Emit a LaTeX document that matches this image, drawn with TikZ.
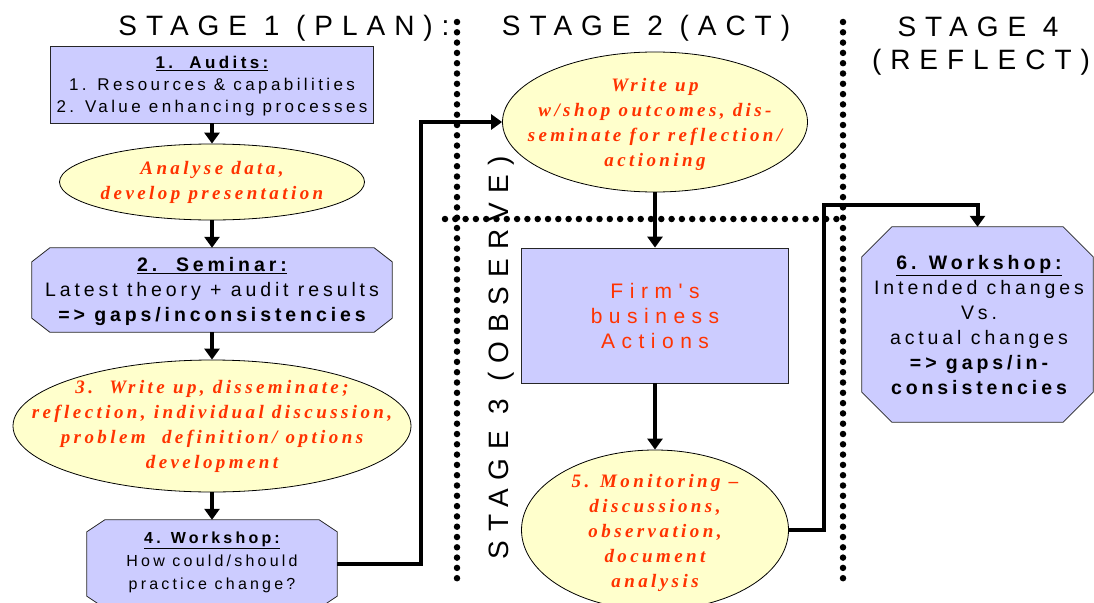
\documentclass[tikz,border=0pt]{standalone}
\usepackage{fontspec}
\setmainfont{Liberation Sans}
\newfontfamily\titlefont[LetterSpace=32]{Liberation Sans}
\newfontfamily\bodyfont[LetterSpace=20]{Liberation Sans}
\newfontfamily\firmfont[LetterSpace=31]{Liberation Sans}
\newfontfamily\notefont[LetterSpace=18]{Liberation Serif}
\usetikzlibrary{shapes.geometric,arrows.meta}

\definecolor{boxfill}{RGB}{204,204,255}
\definecolor{notefill}{RGB}{255,255,204}
\definecolor{notered}{RGB}{255,51,0}

\tikzset{
  stagelabel/.style={font=\titlefont\fontsize{28}{33}\selectfont, inner sep=0},
  card/.style={draw=black!85, line width=0.8pt, fill=boxfill},
  slot/.style={rectangle, inner sep=0},
  note/.style={ellipse, draw=black, line width=0.8pt, fill=notefill, inner sep=0},
  notetext/.style={font=\notefont\bfseries\itshape\fontsize{19}{25}\selectfont,
                   text=notered, align=center, inner sep=0},
  cardtext/.style={font=\bodyfont\fontsize{19.5}{25}\selectfont, align=center, inner sep=0},
  flow/.style={line width=4pt, -{Triangle[width=15pt,length=11pt]}},
  divider/.style={line width=6.5pt, line cap=round, dash pattern=on 0pt off 10.3pt},
}

% octagonal outline around a rectangular slot node: #1 node, #2 x cut, #3 y cut
\newcommand\cutframe[3]{%
  \draw[card] ([xshift=#2]#1.north west) -- ([xshift=-#2]#1.north east)
    -- ([yshift=-#3]#1.north east) -- ([yshift=#3]#1.south east)
    -- ([xshift=-#2]#1.south east) -- ([xshift=#2]#1.south west)
    -- ([yshift=#3]#1.south west) -- ([yshift=-#3]#1.north west) -- cycle;}

\begin{document}
\begin{tikzpicture}[x=1pt, y=-1pt]
  \useasboundingbox (0,0) rectangle (1094,602);

  % stage dividers
  \draw[divider] (457,22) -- (457,580);
  \draw[divider] (843,22) -- (843,580);
  \draw[divider] (445,219) -- (843,219);

  % stage headings
  \node[stagelabel, anchor=base] (s1) at (284,36) {STAGE 1 (PLAN):};
  \node[stagelabel, anchor=base] (s2) at (646,36) {STAGE 2 (ACT)};
  \node[stagelabel, anchor=base] (s4a) at (978,37) {STAGE 4};
  \node[stagelabel, anchor=base] (s4b) at (981,70) {(REFLECT)};
  \node[stagelabel, anchor=base, rotate=90] (s3) at (508,358) {STAGE 3 (OBSERVE)};

  % stage 1 column
  \node[slot, card, minimum width=323pt, minimum height=77pt] (audit) at (212,84.5) {};
  \node[cardtext, font=\bodyfont\fontsize{17}{22}\selectfont] (audittxt) at (212,86)
    {\underline{\bfseries 1.\ \ Audits:}\\1. Resources \& capabilities\\2. Value enhancing processes};

  \node[note, minimum width=305pt, minimum height=76pt] (analyse) at (212,182) {};
  \node[notetext] (analysetxt) at (212,182.5) {Analyse data,\\develop presentation};

  \node[slot, minimum width=360pt, minimum height=84pt] (seminar) at (212,290) {};
  \cutframe{seminar}{18pt}{14pt}
  \node[cardtext] (seminartxt) at (212,291.5)
    {\underline{\bfseries 2.\ \ Seminar:}\\Latest theory + audit results\\{\bfseries => gaps/inconsistencies}};

  \node[note, minimum width=398pt, minimum height=132pt] (reflect) at (212,426) {};
  \node[notetext] (reflecttxt) at (212,426.5)
    {3.\ \ Write up, disseminate;\\reflection, individual discussion,\\problem\ \ definition/ options\\development};

  \node[slot, minimum width=250pt, minimum height=88pt] (shopA) at (212,564) {};
  \cutframe{shopA}{18pt}{12pt}
  \node[cardtext, font=\bodyfont\fontsize{16}{23}\selectfont] (shopAtxt) at (212,562.5)
    {\underline{\bfseries 4. Workshop:}\\How could/should\\practice change?};

  % stage 2 / 3 column
  \node[note, minimum width=305pt, minimum height=140pt] (writeup) at (655,122) {};
  \node[notetext] (writeuptxt) at (655,124)
    {Write up\\w/shop outcomes, dis-\\seminate for reflection/\\actioning};

  \node[slot, card, minimum width=267pt, minimum height=135pt] (firm) at (655,315.5) {};
  \node[cardtext, font=\firmfont\fontsize{21}{25}\selectfont, text=notered] (firmtxt) at (655,316)
    {Firm's\\business\\Actions};

  \node[note, minimum width=267pt, minimum height=160pt] (monitor) at (655,530) {};
  \node[notetext] (monitortxt) at (655,533)
    {5. Monitoring –\\discussions,\\observation,\\document\\analysis};

  % stage 4 column
  \node[slot, minimum width=231pt, minimum height=195pt] (shopB) at (977.5,324.5) {};
  \cutframe{shopB}{30pt}{30pt}
  \node[cardtext] (shopBtxt) at (979,325.5)
    {\underline{\bfseries 6. Workshop:}\\Intended changes\\Vs.\\actual changes\\{\bfseries => gaps/in-}\\{\bfseries consistencies}};

  % connectors
  \draw[flow] (audit.south) -- (analyse.north);
  \draw[flow] (analyse.south) -- (seminar.north);
  \draw[flow] (seminar.south) -- (reflect.north);
  \draw[flow] (reflect.south) -- (shopA.north);
  \draw[flow] (shopA.east) -- ++(84,0) |- (writeup.west);
  \draw[flow] (writeup.south) -- (firm.north);
  \draw[flow] (firm.south) -- (monitor.north);
  \coordinate (bend) at (824,205);
  \draw[flow] (monitor.east) -| (bend) -| (shopB.north);
\end{tikzpicture}
\end{document}
